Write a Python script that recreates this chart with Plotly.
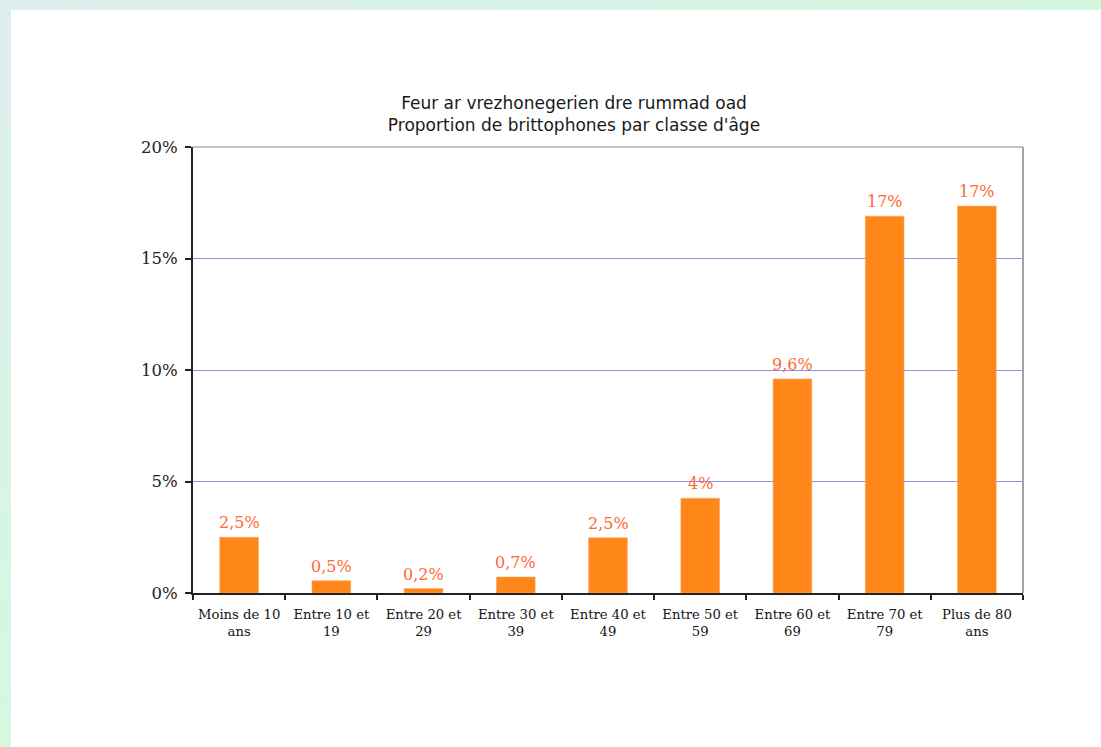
import plotly.graph_objects as go

categories = ["Moins de 10<br>ans", "Entre 10 et<br>19", "Entre 20 et<br>29", "Entre 30 et<br>39",
              "Entre 40 et<br>49", "Entre 50 et<br>59", "Entre 60 et<br>69", "Entre 70 et<br>79",
              "Plus de 80<br>ans"]
values = [2.5, 0.55, 0.2, 0.72, 2.48, 4.25, 9.6, 16.9, 17.35]
value_labels = ["2,5%", "0,5%", "0,2%", "0,7%", "2,5%", "4%", "9,6%", "17%", "17%"]
y_ticks = [0, 5, 10, 15, 20]
y_tick_labels = ["0%", "5%", "10%", "15%", "20%"]

W, H = 1101, 747
L, R, T, B = 193, 78, 147, 154
pw, ph = W - L - R, H - T - B

def px_x(x):
    return (x - L) / pw

def px_y(y):
    return (H - B - y) / ph

def mix(c1, c2, t):
    return "rgb(%d,%d,%d)" % tuple(round(a + (b - a) * t) for a, b in zip(c1, c2))

c_tl = (221, 238, 238)
c_tr = (213, 247, 224)
c_bl = (213, 248, 224)

fig = go.Figure()
fig.add_trace(go.Bar(
    x=categories, y=values,
    marker=dict(color="#ff8719", line=dict(color="#ffa860", width=0.6)),
    width=0.42, hoverinfo="skip",
))

for c, v, t in zip(categories, values, value_labels):
    fig.add_annotation(x=c, y=v, text=t, showarrow=False, yanchor="bottom", yshift=3,
                       font=dict(family="DejaVu Serif", size=16, color="#ff6838"))

shapes = []
n = 40
for i in range(n):
    x0 = i * W / n
    x1 = (i + 1) * W / n
    shapes.append(dict(type="rect", xref="paper", yref="paper",
                       x0=px_x(x0), x1=px_x(x1 + 1), y0=px_y(10), y1=px_y(0),
                       fillcolor=mix(c_tl, c_tr, i / (n - 1)), line=dict(width=0), layer="below"))
for i in range(n):
    y0 = 10 + i * (H - 10) / n
    y1 = 10 + (i + 1) * (H - 10) / n
    shapes.append(dict(type="rect", xref="paper", yref="paper",
                       x0=px_x(0), x1=px_x(11), y0=px_y(y1 + 1), y1=px_y(y0),
                       fillcolor=mix(c_tl, c_bl, i / (n - 1)), line=dict(width=0), layer="below"))
# plot frame (top and right)
shapes.append(dict(type="line", xref="paper", yref="paper", x0=0, x1=1, y0=1, y1=1,
                   line=dict(color="#9fb4c0", width=1.5)))
shapes.append(dict(type="line", xref="paper", yref="paper", x0=1, x1=1, y0=0, y1=1,
                   line=dict(color="#a0a4a8", width=2)))

fig.update_layout(
    width=W, height=H,
    margin=dict(l=L, r=R, t=T, b=B, pad=0),
    paper_bgcolor="white", plot_bgcolor="white",
    showlegend=False,
    shapes=shapes,
    title=dict(text="Feur ar vrezhonegerien dre rummad oad<br>Proportion de brittophones par classe d'âge",
               x=574 / W, xanchor="center", y=1 - 109 / H, yanchor="middle",
               font=dict(family="DejaVu Sans", size=17, color="#1a1a1a")),
    bargap=0.58,
)
fig.update_xaxes(
    showline=True, linecolor="#222222", linewidth=2,
    ticks="outside", tickson="boundaries", ticklen=5, tickcolor="#222222", tickwidth=1.5,
    tickfont=dict(family="DejaVu Serif", size=13.2, color="#141414"),
    tickangle=0, ticklabelstandoff=8,
    showgrid=False, fixedrange=True,
)
fig.update_yaxes(
    range=[0, 20], tickvals=y_ticks, ticktext=y_tick_labels,
    showline=True, linecolor="#222222", linewidth=2,
    ticks="outside", ticklen=6, tickcolor="#222222", tickwidth=1.5,
    tickfont=dict(family="DejaVu Serif", size=16.5, color="#222222"),
    ticklabelstandoff=4,
    showgrid=True, gridcolor="#8f8ff0", gridwidth=1.2, zeroline=False, fixedrange=True,
)

fig.write_html("out.html", config={"displayModeBar": False})
